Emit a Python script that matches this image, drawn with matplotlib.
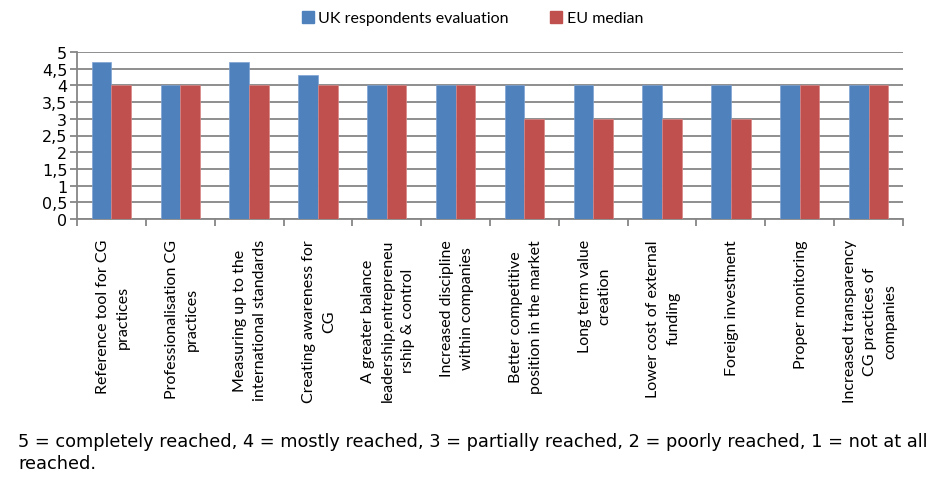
import numpy as np
import matplotlib.pyplot as plt
from matplotlib.patches import Patch

categories = [
    "Reference tool for CG\npractices",
    "Professionalisation CG\npractices",
    "Measuring up to the\ninternational standards",
    "Creating awareness for\nCG",
    "A greater balance\nleadership,entrepreneu\nrship & control",
    "Increased discipline\nwithin companies",
    "Better competitive\nposition in the market",
    "Long term value\ncreation",
    "Lower cost of external\nfunding",
    "Foreign investment",
    "Proper monitoring",
    "Increased transparency\nCG practices of\ncompanies",
]
uk_values = [4.7, 4, 4.7, 4.3, 4, 4, 4, 4, 4, 4, 4, 4]
eu_values = [4, 4, 4, 4, 4, 4, 3, 3, 3, 3, 4, 4]
y_ticks = [0, 0.5, 1, 1.5, 2, 2.5, 3, 3.5, 4, 4.5, 5]
y_labels = ["0", "0,5", "1", "1,5", "2", "2,5", "3", "3,5", "4", "4,5", "5"]
series_names = ["UK respondents evaluation", "EU median"]

blue = "#4F81BD"
red = "#C0504D"
grey = "#868686"

fig = plt.figure(figsize=(9.32, 4.89), dpi=100)
ax = fig.add_axes([77/932, 1-220/489, (903-77)/932, (220-53)/489])

x = np.arange(len(categories))
w = 0.285
ax.bar(x - w/2, uk_values, w, color=blue, edgecolor="#7FA3D2", linewidth=0.5, zorder=3)
ax.bar(x + w/2, eu_values, w, color=red, edgecolor="#D98785", linewidth=0.5, zorder=3)

ax.set_xlim(-0.5, len(categories) - 0.5)
ax.set_ylim(0, 5)
ax.set_yticks(y_ticks)
ax.set_yticklabels(y_labels, fontsize=11.5, family="DejaVu Sans")
ax.yaxis.grid(True, color=grey, linewidth=1.3, zorder=0)
ax.tick_params(axis="y", direction="out", length=5, width=1.3, color=grey, pad=2)

# category boundary ticks
ax.set_xticks(np.arange(len(categories) + 1) - 0.5)
ax.set_xticklabels([])
ax.tick_params(axis="x", direction="out", length=5, width=1.3, color=grey)

for s in ["top", "right"]:
    ax.spines[s].set_visible(False)
for s in ["left", "bottom"]:
    ax.spines[s].set_color(grey)
    ax.spines[s].set_linewidth(1.3)

for i, lab in enumerate(categories):
    ax.text(i + 0.02, -0.12, lab, transform=ax.get_xaxis_transform(), rotation=90,
            ha="center", va="top", multialignment="center",
            fontsize=11.5, family="Lato", linespacing=1.55)

handles = [Patch(color=blue), Patch(color=red)]
fig.legend(handles, series_names, loc="upper center", bbox_to_anchor=(0.507, 1.005),
           ncol=2, frameon=False, prop={"family": "Lato", "size": 11.5},
           handlelength=0.75, handleheight=0.75, handletextpad=0.3, columnspacing=2.6)

fig.text(18/932, 1-453/489,
         "5 = completely reached, 4 = mostly reached, 3 = partially reached, 2 = poorly reached, 1 = not at all\nreached.",
         ha="left", va="center", fontsize=12.8, family="DejaVu Sans", linespacing=1.3)

fig.savefig("out.png", dpi=100)
